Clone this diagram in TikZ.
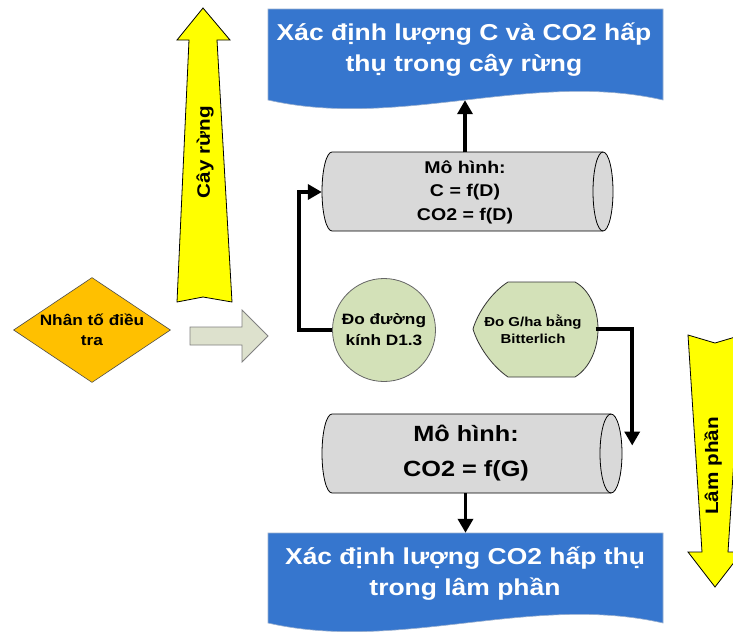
\documentclass[tikz,border=0pt]{standalone}
\usepackage{fontspec}
\setmainfont{Liberation Sans}[FakeStretch=1.15]
\usetikzlibrary{shapes.geometric,arrows.meta,backgrounds,calc}
\definecolor{docblue}{HTML}{3676CE}
\definecolor{cylgrey}{HTML}{D9D9D9}
\definecolor{cgreen}{HTML}{D3E1B8}
\definecolor{dorange}{HTML}{FFC000}
\definecolor{byellow}{HTML}{FFFF00}
\definecolor{blockfill}{HTML}{DDE1CD}
\begin{document}
\begin{tikzpicture}[x=1pt,y=-1pt,
  txt/.style={inner sep=0pt, align=center},
  frame/.style={inner sep=0pt, rectangle},
  conn/.style={line width=3.5pt, -{Triangle[length=14pt,width=15pt]}},
  docshape/.style={fill=docblue, draw=docblue!60!gray!60, line width=0.6pt},
  cylshape/.style={fill=cylgrey, draw=black, line width=0.8pt},
  yarrow/.style={fill=byellow, draw=black, line width=0.8pt},
]
\useasboundingbox (0,0) rectangle (733,635);
\clip (0,0) rectangle (733,635);

% ---------- named nodes ----------
\node[frame, minimum width=395pt, minimum height=91pt] (d1) at (465.5,54.5) {};
\node[txt, text=white, font=\bfseries\fontsize{23}{31}\selectfont] (d1t) at (464,50)
  {Xác định lượng C và CO2 hấp\\thụ trong cây rừng};
\node[frame, minimum width=395pt, minimum height=90pt] (d2) at (465.5,578) {};
\node[txt, text=white, font=\bfseries\fontsize{23}{31}\selectfont] (d2t) at (465,574)
  {Xác định lượng CO2 hấp thụ\\trong lâm phần};

\node[txt, font=\bfseries\fontsize{17}{23.5}\selectfont,
      minimum width=286pt, minimum height=79pt] (cyl1) at (465,192)
  {Mô hình:\\C = f(D)\\CO2 = f(D)};
\node[txt, font=\bfseries\fontsize{22}{35}\selectfont,
      minimum width=288pt, minimum height=79pt] (cyl2) at (466,453.5)
  {Mô hình:\\CO2 = f(G)};

\node[txt, font=\bfseries\fontsize{13}{17}\selectfont,
      minimum width=125pt, minimum height=95pt] (bit) at (533,329)
  {Đo G/ha bằng\\Bitterlich};

\node[txt, font=\bfseries\fontsize{18}{22}\selectfont, rotate=90] (cay) at (205,152) {Cây rừng};
\node[txt, font=\bfseries\fontsize{18}{22}\selectfont, rotate=90] (lam) at (713,466) {Lâm phần};

% ---------- shapes behind ----------
\begin{scope}[on background layer]
  \fill[white] (0,0) rectangle (733,635);
  % document shapes
  \path[docshape] (268,9) -- (663,9) -- (663,100)
     .. controls (531,70) and (400,130) .. (268,100) -- cycle;
  \path[docshape] (268,533) -- (663,533) -- (663,623)
     .. controls (531,593) and (400,653) .. (268,623) -- cycle;
  % cylinder 1
  \path[cylshape] (332,152) -- (603,152)
     arc[start angle=-90, end angle=90, x radius=10, y radius=39.5]
     -- (332,231)
     arc[start angle=90, end angle=270, x radius=10, y radius=39.5] -- cycle;
  \draw[black, line width=0.8pt] (603,152)
     arc[start angle=-90, end angle=-270, x radius=10, y radius=39.5];
  % cylinder 2
  \path[cylshape] (332,414) -- (611,414)
     arc[start angle=-90, end angle=90, x radius=11, y radius=39.5]
     -- (332,493)
     arc[start angle=90, end angle=270, x radius=10, y radius=39.5] -- cycle;
  \draw[black, line width=0.8pt] (611,414)
     arc[start angle=-90, end angle=-270, x radius=11, y radius=39.5];
  % Bitterlich display shape
  \path[fill=cgreen, draw=black!80, line width=0.8pt]
     (508,282) -- (575,282)
     .. controls (590,290) and (598,310) .. (598,329)
     .. controls (598,348) and (590,368) .. (575,377)
     -- (508,377)
     .. controls (492,366) and (478,346) .. (473,329)
     .. controls (478,312) and (492,292) .. (508,282) -- cycle;
  % yellow up arrow
  \path[yarrow] (203,8) -- (230,40) -- (217,40) -- (232,302) -- (203,297)
     -- (177,302) -- (189,40) -- (177,40) -- cycle;
  % yellow down arrow
  \path[yarrow] (688,335) -- (715,343) -- (742,335) -- (728,552) -- (742,552)
     -- (715,587) -- (688,552) -- (702,552) -- cycle;
  % block arrow
  \path[fill=blockfill, draw=gray, line width=0.8pt]
     (190,327) -- (242,327) -- (242,310) -- (268,336) -- (242,362)
     -- (242,345) -- (190,345) -- cycle;
\end{scope}

\node[diamond, fill=dorange, draw=black!70, line width=0.6pt, inner sep=0pt,
      aspect=1.5, minimum width=157pt, minimum height=105pt, align=center,
      font=\bfseries\fontsize{15}{20}\selectfont] (nt) at (92,330)
  {Nhân tố điều\\tra};

\node[circle, fill=cgreen, draw=black!60, line width=0.8pt, inner sep=0pt,
      minimum size=103pt, align=center,
      font=\bfseries\fontsize{15}{21}\selectfont] (circ) at (384,330)
  {Đo đường\\kính D1.3};

% ---------- connectors ----------
\draw[conn] (cyl1.north) -- (cyl1.north |- d1.south);
\draw[conn] (d2.north |- cyl2.south) -- (d2.north);
\draw[conn] (circ.west) -- ++(-33,0) |- (cyl1.west);
\draw[conn] (bit.east) -| ([xshift=22pt,yshift=8pt]cyl2.east);
\end{tikzpicture}
\end{document}
